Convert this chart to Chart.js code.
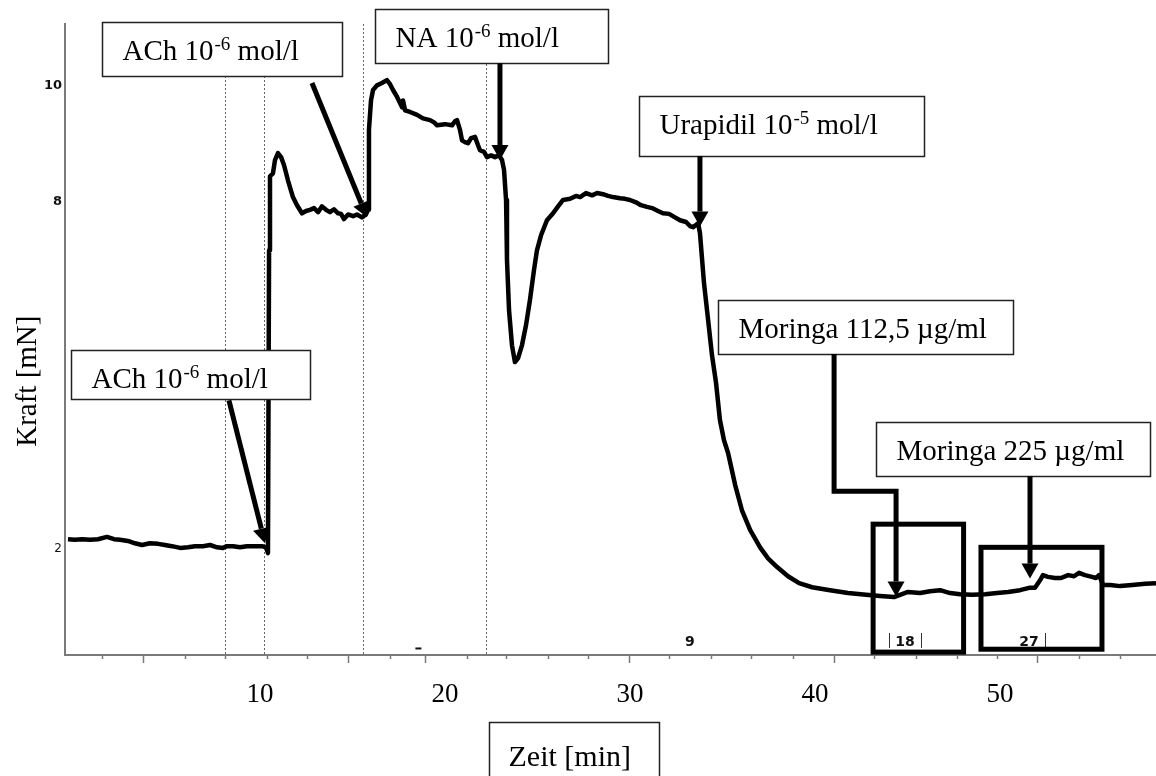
<!DOCTYPE html>
<html>
<head>
<meta charset="utf-8">
<title>Kraft / Zeit</title>
<script src="https://cdn.jsdelivr.net/npm/chart.js@4.4.0/dist/chart.umd.min.js"></script>
<style>
  html, body { margin: 0; padding: 0; background: #fff; }
  canvas { display: block; }
</style>
</head>
<body>
<canvas id="chart" width="1156" height="776"></canvas>
<script>
// force trace (time in min, force in mN)
const timeMin = [
  -0.38, 0.00, 0.38, 0.81, 1.24, 1.73, 2.11, 2.43, 2.86, 3.24,
  3.62, 4.05, 4.49, 4.86, 5.24, 5.68, 6.11, 6.49, 6.92, 7.30,
  7.68, 8.00, 8.22, 8.54, 8.92, 9.30, 9.73, 10.11, 10.32, 10.43,
  10.49, 10.54, 10.70, 10.81, 10.97, 11.14, 11.30, 11.51, 11.78, 12.00,
  12.27, 12.49, 12.70, 12.92, 13.14, 13.35, 13.57, 13.78, 14.00, 14.22,
  14.38, 14.54, 14.76, 15.03, 15.24, 15.51, 15.73, 15.84, 15.89, 16.00,
  16.11, 16.32, 16.59, 16.86, 17.03, 17.19, 17.41, 17.68, 17.73, 17.84,
  18.11, 18.49, 18.81, 19.19, 19.41, 19.57, 20.00, 20.38, 20.54, 20.65,
  20.81, 20.92, 21.08, 21.24, 21.41, 21.62, 21.78, 21.89, 22.11, 22.27,
  22.49, 22.70, 22.92, 23.08, 23.19, 23.30, 23.35, 23.46, 23.62, 23.78,
  23.95, 24.16, 24.38, 24.59, 24.81, 24.97, 25.19, 25.51, 25.84, 26.11,
  26.38, 26.76, 27.08, 27.30, 27.62, 27.95, 28.22, 28.54, 28.81, 29.08,
  29.46, 29.73, 30.00, 30.32, 30.59, 30.92, 31.19, 31.51, 31.78, 32.11,
  32.43, 32.70, 33.03, 33.24, 33.41, 33.68, 33.78, 34.00, 34.22, 34.43,
  34.65, 34.86, 35.08, 35.30, 35.68, 36.05, 36.49, 37.03, 37.46, 37.95,
  38.54, 39.14, 39.84, 40.81, 41.78, 42.76, 43.51, 44.27, 44.59, 45.03,
  45.68, 46.22, 46.76, 47.30, 47.84, 48.49, 49.19, 49.84, 50.43, 51.08,
  51.57, 51.89, 52.16, 52.32, 52.59, 52.97, 53.30, 53.68, 54.00, 54.27,
  54.59, 54.97, 55.19, 55.35, 55.57, 55.95, 56.49, 57.14, 57.84, 58.43
];
const forceMN = [
  2.17, 2.16, 2.17, 2.16, 2.17, 2.21, 2.17, 2.16, 2.14, 2.10,
  2.07, 2.10, 2.09, 2.07, 2.05, 2.02, 2.03, 2.05, 2.05, 2.07,
  2.03, 2.02, 2.05, 2.05, 2.03, 2.05, 2.05, 2.05, 2.03, 1.93,
  7.16, 8.44, 8.49, 8.72, 8.84, 8.77, 8.63, 8.37, 8.08, 7.94,
  7.80, 7.84, 7.86, 7.89, 7.82, 7.92, 7.86, 7.82, 7.87, 7.80,
  7.79, 7.70, 7.78, 7.75, 7.78, 7.73, 7.78, 7.86, 9.24, 9.75,
  9.93, 10.01, 10.05, 10.10, 10.03, 9.93, 9.81, 9.63, 9.75, 9.58,
  9.55, 9.50, 9.44, 9.41, 9.37, 9.32, 9.34, 9.32, 9.39, 9.41,
  9.24, 9.06, 9.03, 9.01, 9.10, 9.12, 8.98, 8.89, 8.86, 8.77,
  8.80, 8.77, 8.80, 8.72, 8.55, 8.03, 6.99, 6.13, 5.52, 5.23,
  5.30, 5.52, 5.87, 6.30, 6.82, 7.16, 7.42, 7.68, 7.80, 7.92,
  8.03, 8.05, 8.10, 8.08, 8.15, 8.11, 8.15, 8.13, 8.10, 8.08,
  8.06, 8.05, 8.03, 7.99, 7.94, 7.91, 7.89, 7.84, 7.80, 7.79,
  7.73, 7.68, 7.65, 7.58, 7.56, 7.63, 7.46, 6.59, 5.96, 5.35,
  4.87, 4.23, 3.88, 3.66, 3.11, 2.67, 2.33, 2.03, 1.84, 1.69,
  1.53, 1.41, 1.34, 1.29, 1.24, 1.21, 1.19, 1.17, 1.21, 1.26,
  1.24, 1.27, 1.29, 1.24, 1.22, 1.21, 1.22, 1.24, 1.26, 1.29,
  1.33, 1.33, 1.46, 1.55, 1.52, 1.50, 1.50, 1.55, 1.53, 1.59,
  1.55, 1.52, 1.50, 1.55, 1.38, 1.38, 1.36, 1.38, 1.40, 1.41
];

const xTickLabels = [10, 20, 30, 40, 50];
const yTickLabels = [2, 8, 10];
// tick marks of the recorder's own time axis
const recorderTicks = [1.51, 5.95, 8.16, 10.38, 12.59, 17.03, 21.19, 23.35, 25.57, 27.73,
  32.16, 34.38, 36.59, 38.81, 43.24, 45.46, 47.68, 49.84, 54.27, 56.49];
const recorderMajorTicks = [3.73, 14.81, 18.97, 29.95, 41.03, 52.00];
const recorderMarks = [
  { text: '9', at: 33.24 },
  { text: '18', at: 44.86 },
  { text: '27', at: 51.57 }
];
const recorderBars = [44.00, 45.73, 52.43];
const eventLines = [8.11, 10.22, 15.57, 22.22];

// substance labels: box edges in min / mN, arrow path ends at the tip
const labels = [
  { text: 'ACh 10', sup: '-6', rest: ' mol/l', box: [1.46, 14.42, 11.11, 10.17],
    arrow: [[12.81, 10.05], [15.78, 7.73]] },
  { text: 'NA 10', sup: '-6', rest: ' mol/l', box: [16.22, 28.81, 11.33, 10.39],
    arrow: [[22.97, 10.39], [22.97, 8.72]] },
  { text: 'Urapidil 10', sup: '-5', rest: ' mol/l', box: [30.51, 45.89, 9.83, 8.79],
    arrow: [[33.78, 8.79], [33.78, 7.57]] },
  { text: 'Moringa 112,5 µg/ml', box: [34.76, 50.68, 6.30, 5.37],
    arrow: [[41.03, 5.37], [41.03, 3.00], [44.38, 3.00], [44.38, 1.18]] },
  { text: 'Moringa 225 µg/ml', box: [43.30, 58.11, 4.19, 3.26],
    arrow: [[51.62, 3.26], [51.62, 1.49]] },
  { text: 'ACh 10', sup: '-6', rest: ' mol/l', box: [-0.22, 12.70, 5.44, 4.59],
    arrow: [[8.32, 4.57], [10.27, 2.10]] }
];
const frames = [[43.14, 48.03, 2.43, 0.22], [48.97, 55.51, 2.03, 0.27]];

const SERIF = '"Liberation Serif", "Times New Roman", serif';
const AXIS_GRAY = '#7a7a7a';

function drawArrow(ctx, pts) {
  const n = pts.length;
  const [tx, ty] = pts[n - 1];
  const [px, py] = pts[n - 2];
  const d = Math.hypot(tx - px, ty - py);
  const ux = (tx - px) / d, uy = (ty - py) / d;
  const headLen = 15, half = 8.5;
  const bx = tx - ux * headLen, by = ty - uy * headLen;
  ctx.beginPath();
  ctx.moveTo(pts[0][0], pts[0][1]);
  for (let i = 1; i < n - 1; i++) ctx.lineTo(pts[i][0], pts[i][1]);
  ctx.lineTo(bx, by);
  ctx.stroke();
  ctx.beginPath();
  ctx.moveTo(tx, ty);
  ctx.lineTo(bx - uy * half, by + ux * half);
  ctx.lineTo(bx + uy * half, by - ux * half);
  ctx.closePath();
  ctx.fill();
}

function drawRichText(ctx, item, x, y) {
  ctx.font = '29px ' + SERIF;
  ctx.fillText(item.text, x, y);
  let w = ctx.measureText(item.text).width;
  if (item.sup) {
    ctx.font = '19px ' + SERIF;
    ctx.fillText(item.sup, x + w + 1, y - 10);
    w += ctx.measureText(item.sup).width + 1;
  }
  if (item.rest) {
    ctx.font = '29px ' + SERIF;
    ctx.fillText(item.rest, x + w, y);
  }
}

const overlay = {
  id: 'overlay',
  beforeDatasetsDraw(chart) {
    const { ctx, chartArea } = chart;
    const xs = chart.scales.x;
    ctx.save();
    ctx.strokeStyle = '#666';
    ctx.lineWidth = 1;
    ctx.setLineDash([2, 2]);
    eventLines.forEach(t => {
      const px = Math.round(xs.getPixelForValue(t)) + 0.5;
      ctx.beginPath();
      ctx.moveTo(px, chartArea.top);
      ctx.lineTo(px, chartArea.bottom);
      ctx.stroke();
    });
    ctx.restore();
  },
  afterDatasetsDraw(chart) {
    const { ctx } = chart;
    const xs = chart.scales.x, ys = chart.scales.y;
    const X = v => xs.getPixelForValue(v);
    const Y = v => ys.getPixelForValue(v);
    ctx.save();

    // recorder marks near the time axis
    ctx.fillStyle = '#111';
    ctx.font = 'bold 14px "DejaVu Sans"';
    ctx.textAlign = 'center';
    ctx.textBaseline = 'middle';
    recorderMarks.forEach(m => ctx.fillText(m.text, X(m.at), Y(0.38)));
    ctx.strokeStyle = '#333';
    ctx.lineWidth = 1;
    recorderBars.forEach(t => {
      const px = Math.round(X(t)) + 0.5;
      ctx.beginPath();
      ctx.moveTo(px, Y(0.55));
      ctx.lineTo(px, Y(0.29));
      ctx.stroke();
    });
    ctx.fillRect(X(18.40), Y(0.30), 6, 2);

    // frames around the Moringa responses
    ctx.strokeStyle = '#000';
    ctx.lineWidth = 5;
    frames.forEach(([x0, x1, y0, y1]) => {
      ctx.strokeRect(X(x0), Y(y0), X(x1) - X(x0), Y(y1) - Y(y0));
    });

    // label boxes and arrows
    ctx.textAlign = 'left';
    ctx.textBaseline = 'alphabetic';
    labels.forEach(l => {
      const [x0, x1, y0, y1] = l.box;
      const left = Math.round(X(x0)) + 0.5, top = Math.round(Y(y0)) + 0.5;
      const w = Math.round(X(x1) - X(x0)), h = Math.round(Y(y1) - Y(y0));
      ctx.fillStyle = '#fff';
      ctx.fillRect(left, top, w, h);
      ctx.strokeStyle = '#222';
      ctx.lineWidth = 1.5;
      ctx.strokeRect(left, top, w, h);
      ctx.fillStyle = '#000';
      drawRichText(ctx, l, left + 20, top + 37);
      ctx.strokeStyle = '#000';
      ctx.lineWidth = 5;
      ctx.lineJoin = 'miter';
      drawArrow(ctx, l.arrow.map(([a, b]) => [X(a), Y(b)]));
    });
    ctx.restore();
  },
  afterDraw(chart) {
    const { ctx } = chart;
    const xs = chart.scales.x, ys = chart.scales.y;
    ctx.save();
    // y axis title
    ctx.translate(ys.left + 28, ys.getPixelForValue(4.9));
    ctx.rotate(-Math.PI / 2);
    ctx.fillStyle = '#000';
    ctx.font = '29px ' + SERIF;
    ctx.textAlign = 'center';
    ctx.textBaseline = 'middle';
    ctx.fillText('Kraft [mN]', 0, 0);
    ctx.restore();

    // x axis title in its box
    ctx.save();
    const bx0 = Math.round(xs.getPixelForValue(22.38)) + 0.5;
    const bx1 = Math.round(xs.getPixelForValue(31.57)) + 0.5;
    const top = chart.chartArea.bottom + 67.5;
    ctx.strokeStyle = '#222';
    ctx.lineWidth = 1.5;
    ctx.beginPath();
    ctx.moveTo(bx0, chart.height + 2);
    ctx.lineTo(bx0, top);
    ctx.lineTo(bx1, top);
    ctx.lineTo(bx1, chart.height + 2);
    ctx.stroke();
    ctx.fillStyle = '#000';
    ctx.font = '30px ' + SERIF;
    ctx.textAlign = 'left';
    ctx.textBaseline = 'alphabetic';
    ctx.fillText('Zeit [min]', bx0 + 19, top + 43);
    ctx.restore();
  }
};

const X_MIN = -0.54, X_MAX = 58.43;

new Chart(document.getElementById('chart'), {
  type: 'line',
  data: {
    datasets: [{
      data: timeMin.map((t, i) => ({ x: t, y: forceMN[i] })),
      borderColor: '#000',
      borderWidth: 4.5,
      borderJoinStyle: 'round',
      pointRadius: 0,
      tension: 0,
      fill: false,
      xAxisID: 'x',
      yAxisID: 'y'
    }]
  },
  options: {
    responsive: false,
    animation: false,
    devicePixelRatio: 1,
    layout: { padding: { top: 24, right: 0, bottom: 0, left: 0 } },
    plugins: { legend: { display: false }, tooltip: { enabled: false } },
    scales: {
      x: {
        type: 'linear', position: 'bottom', weight: 0,
        min: X_MIN, max: X_MAX,
        afterBuildTicks: s => { s.ticks = recorderTicks.map(v => ({ value: v })); },
        afterFit: s => { s.height = 0; },
        grid: { display: true, drawOnChartArea: false, drawTicks: true, tickLength: 4, tickColor: AXIS_GRAY, tickWidth: 1.5 },
        border: { display: true, color: AXIS_GRAY, width: 2 },
        ticks: { display: false }
      },
      xMajor: {
        type: 'linear', position: 'bottom', weight: 0,
        min: X_MIN, max: X_MAX,
        afterBuildTicks: s => { s.ticks = recorderMajorTicks.map(v => ({ value: v })); },
        afterFit: s => { s.height = 0; },
        grid: { display: true, drawOnChartArea: false, drawTicks: true, tickLength: 8, tickColor: AXIS_GRAY, tickWidth: 1.5 },
        border: { display: false },
        ticks: { display: false }
      },
      xLabels: {
        type: 'linear', position: 'bottom', weight: 1,
        min: X_MIN, max: X_MAX,
        afterBuildTicks: s => { s.ticks = xTickLabels.map(v => ({ value: v })); },
        afterFit: s => { s.height = 121; },
        grid: { display: false, drawTicks: false },
        border: { display: false },
        ticks: { padding: 24, color: '#000', maxRotation: 0, autoSkip: false, font: { family: SERIF, size: 27 } }
      },
      y: {
        type: 'linear', position: 'left',
        min: 0.17, max: 11.07,
        afterBuildTicks: s => { s.ticks = yTickLabels.map(v => ({ value: v })); },
        afterFit: s => { s.width = 65; },
        grid: { display: false, drawTicks: false },
        border: { display: true, color: AXIS_GRAY, width: 2 },
        ticks: {
          padding: 3, color: '#111', autoSkip: false,
          font: c => ({ family: '"DejaVu Sans"', size: c.tick && c.tick.value === 2 ? 12 : 13, weight: c.tick && c.tick.value === 2 ? 'normal' : 'bold' })
        }
      }
    }
  },
  plugins: [overlay]
});
</script>
</body>
</html>
